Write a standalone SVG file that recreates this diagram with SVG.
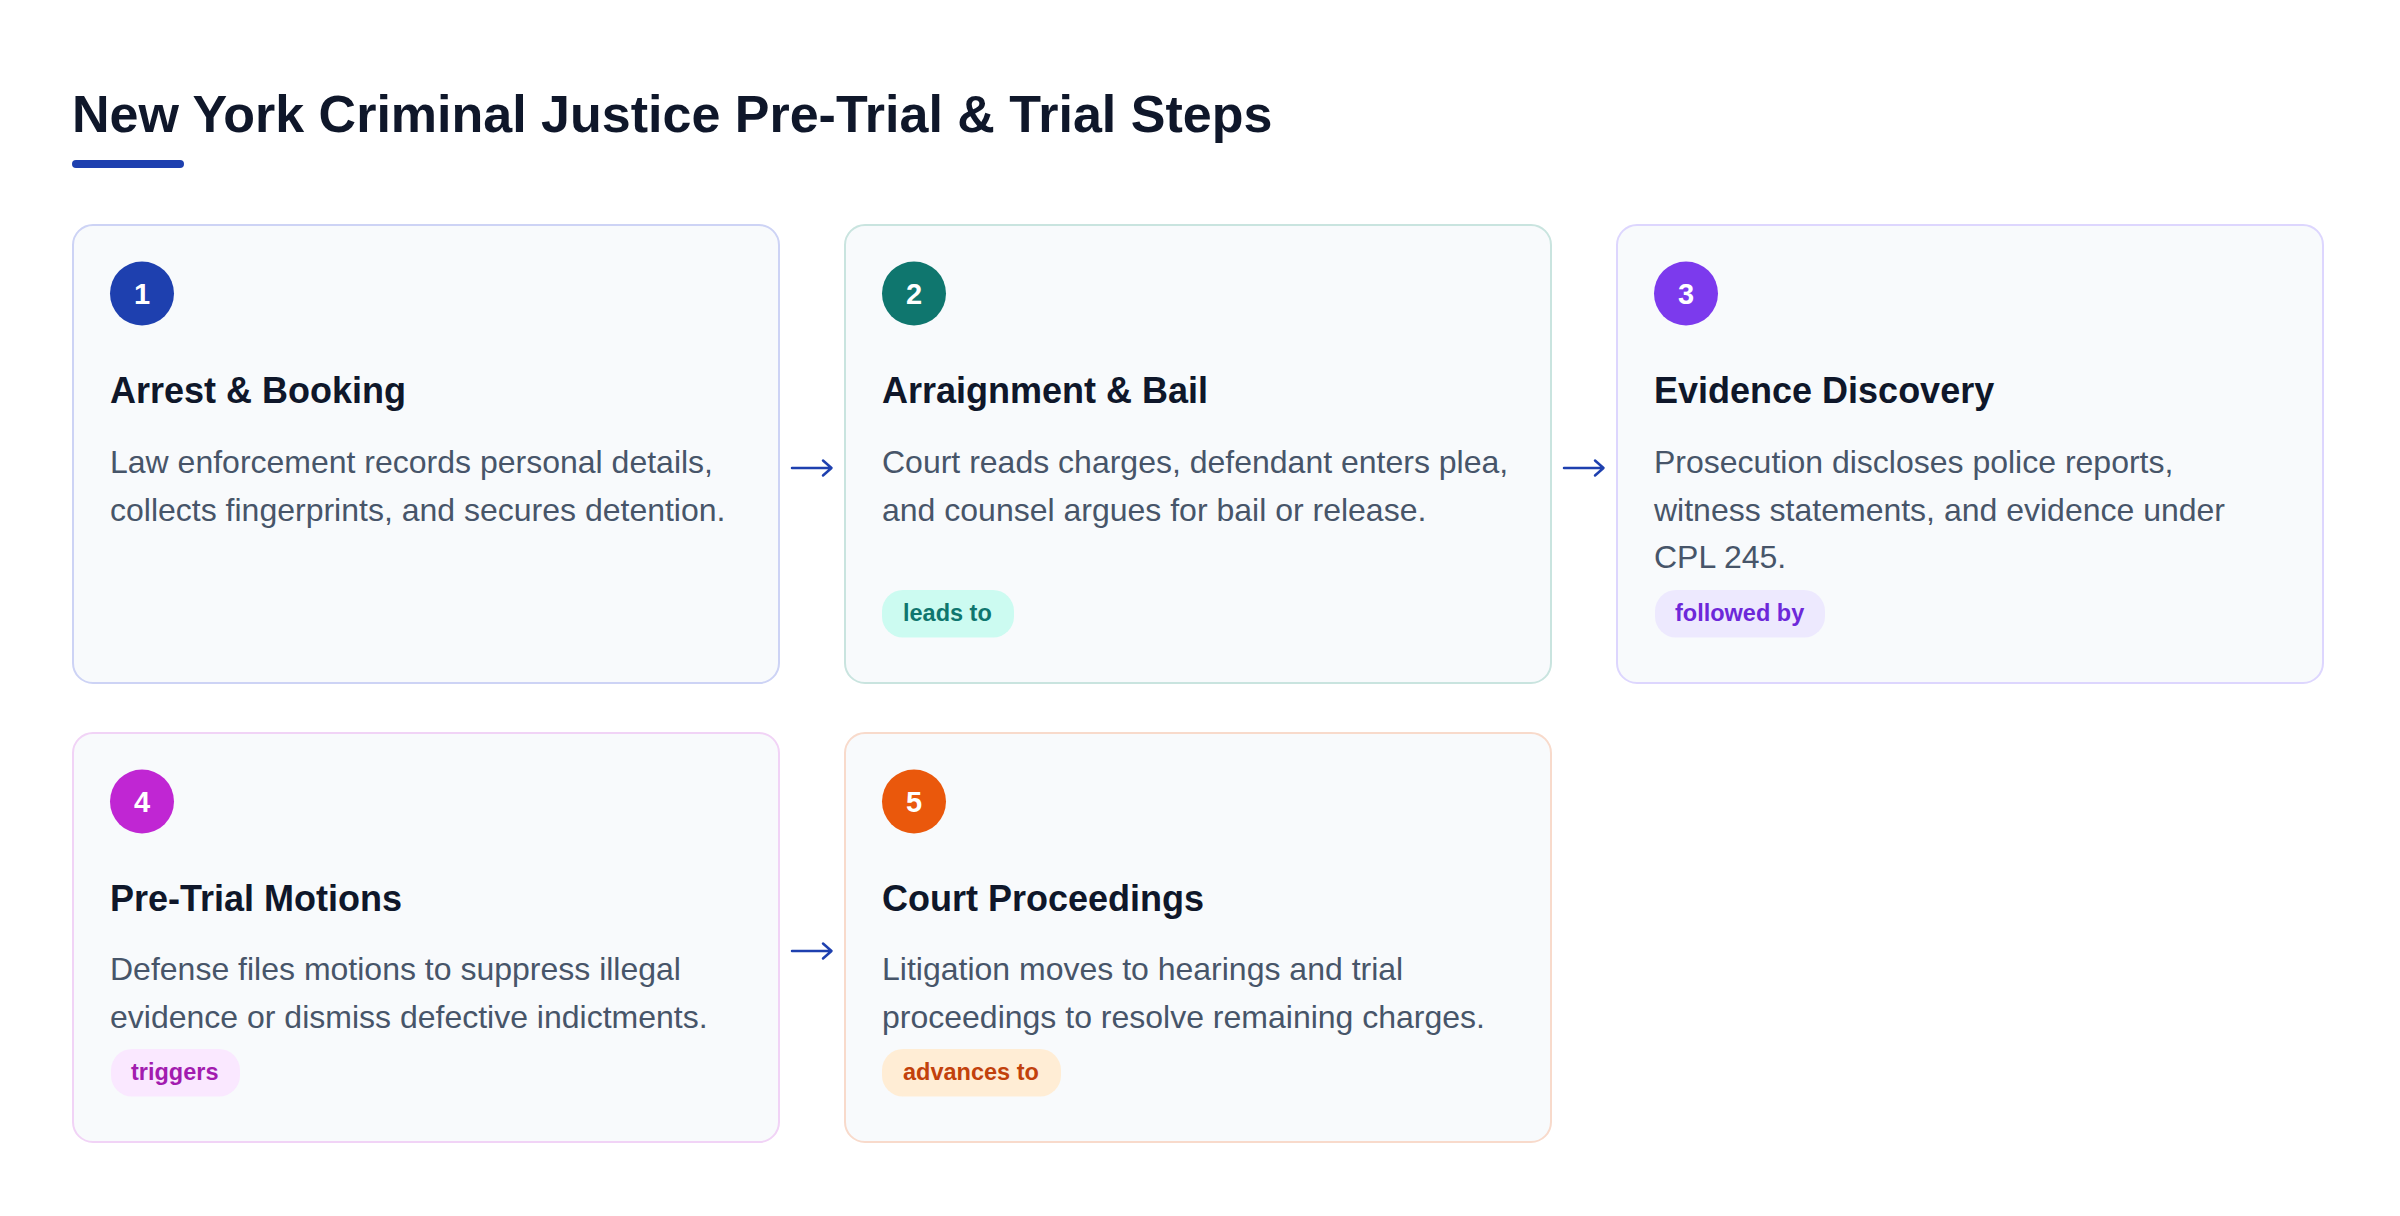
<svg xmlns="http://www.w3.org/2000/svg" width="2400" height="1216" viewBox="0 0 2400 1216">
<style>
.card{fill:#f8fafc;stroke-width:2}
.num{font-family:"Liberation Sans",Arial,sans-serif;font-weight:700;font-size:29px;fill:#ffffff;text-anchor:middle}
.ttl{font-family:"Liberation Sans",Arial,sans-serif;font-weight:700;font-size:36px;fill:#0f172a}
.desc{font-family:"Liberation Sans",Arial,sans-serif;font-size:32px;fill:#475569}
.tag{font-family:"Liberation Sans",Arial,sans-serif;font-weight:700;font-size:23.5px}
.conn{fill:none;stroke:#1e40af;stroke-width:2.5;stroke-linecap:round;stroke-linejoin:round}
</style>
<rect width="2400" height="1216" fill="#ffffff"/>
<g id="header">
<text x="72" y="132" font-family="Liberation Sans, Arial, sans-serif" font-weight="700" font-size="52" fill="#0f172a">New York Criminal Justice Pre-Trial &amp; Trial Steps</text>
<rect x="72" y="160" width="112" height="8" rx="4" fill="#1e40af"/>
</g>
<g id="node1">
<rect class="card" x="73" y="225" width="706" height="458" rx="20" stroke="#cdd3f5"/>
<circle cx="142" cy="293.5" r="32" fill="#1e40af"/>
<text class="num" x="142" y="303.5">1</text>
<text class="ttl" x="110" y="403">Arrest &amp; Booking</text>
<text class="desc" x="110" y="473">Law enforcement records personal details,</text>
<text class="desc" x="110" y="521">collects fingerprints, and secures detention.</text>
</g>
<g id="node2">
<rect class="card" x="845" y="225" width="706" height="458" rx="20" stroke="#c9e4df"/>
<circle cx="914" cy="293.5" r="32" fill="#0f766e"/>
<text class="num" x="914" y="303.5">2</text>
<text class="ttl" x="882" y="403">Arraignment &amp; Bail</text>
<text class="desc" x="882" y="473">Court reads charges, defendant enters plea,</text>
<text class="desc" x="882" y="521">and counsel argues for bail or release.</text>
<rect x="882" y="590" width="132" height="47.5" rx="21" fill="#ccfbf1"/>
<text class="tag" x="903" y="620.5" fill="#0f766e">leads to</text>
</g>
<g id="node3">
<rect class="card" x="1617" y="225" width="706" height="458" rx="20" stroke="#ddd6fe"/>
<circle cx="1686" cy="293.5" r="32" fill="#7c3aed"/>
<text class="num" x="1686" y="303.5">3</text>
<text class="ttl" x="1654" y="403">Evidence Discovery</text>
<text class="desc" x="1654" y="473">Prosecution discloses police reports,</text>
<text class="desc" x="1654" y="521">witness statements, and evidence under</text>
<text class="desc" x="1654" y="568">CPL 245.</text>
<rect x="1655" y="590" width="170" height="47.5" rx="21" fill="#ede9fe"/>
<text class="tag" x="1675" y="620.5" fill="#6d28d9">followed by</text>
</g>
<g id="node4">
<rect class="card" x="73" y="733" width="706" height="409" rx="20" stroke="#f1d3f6"/>
<circle cx="142" cy="801.5" r="32" fill="#c026d3"/>
<text class="num" x="142" y="811.5">4</text>
<text class="ttl" x="110" y="911">Pre-Trial Motions</text>
<text class="desc" x="110" y="980">Defense files motions to suppress illegal</text>
<text class="desc" x="110" y="1028">evidence or dismiss defective indictments.</text>
<rect x="111" y="1049" width="129" height="47.5" rx="21" fill="#fae8ff"/>
<text class="tag" x="131" y="1079.5" fill="#a21caf">triggers</text>
</g>
<g id="node5">
<rect class="card" x="845" y="733" width="706" height="409" rx="20" stroke="#f8dacb"/>
<circle cx="914" cy="801.5" r="32" fill="#ea580c"/>
<text class="num" x="914" y="811.5">5</text>
<text class="ttl" x="882" y="911">Court Proceedings</text>
<text class="desc" x="882" y="980">Litigation moves to hearings and trial</text>
<text class="desc" x="882" y="1028">proceedings to resolve remaining charges.</text>
<rect x="882" y="1049" width="179" height="47.5" rx="21" fill="#ffedd5"/>
<text class="tag" x="903" y="1079.5" fill="#c2410c">advances to</text>
</g>
<g id="connectors">
<path class="conn" d="M792 468 H831 M823 460.5 L831.5 468 L823 475.5"/>
<path class="conn" d="M1564 468 H1603 M1595 460.5 L1603.5 468 L1595 475.5"/>
<path class="conn" d="M792 951 H831 M823 943.5 L831.5 951 L823 958.5"/>
</g>
</svg>
